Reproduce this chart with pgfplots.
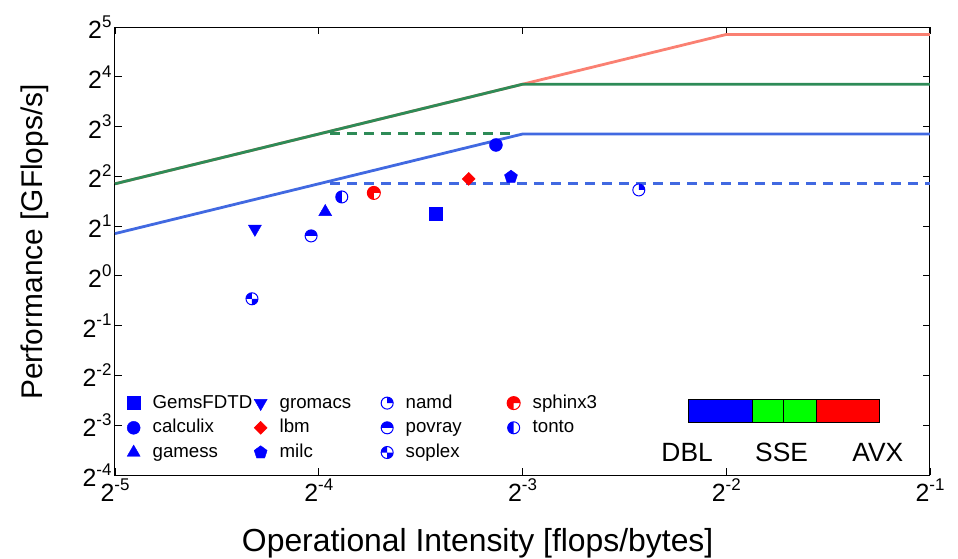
\documentclass[border=0pt]{standalone}
\usepackage{fontspec}
\setmainfont{Liberation Sans}
\usepackage{pgfplots}
\pgfplotsset{compat=1.18}
\usetikzlibrary{plotmarks}
\definecolor{rblue}{RGB}{65,105,225}
\definecolor{sgreen}{RGB}{46,139,87}
\definecolor{salmon}{RGB}{250,128,114}
\definecolor{pblue}{RGB}{0,0,255}
\definecolor{pred}{RGB}{255,0,0}
\definecolor{pgreen}{RGB}{0,255,0}

\newcommand\pw[1]{2\raisebox{0.45em}{\fontsize{17}{17}\selectfont#1}}
\newcommand\lgd[1]{\makebox[114bp][l]{\hspace{12.5bp}#1}}
\tikzset{roofdash/.style={line width=3.2bp, dash pattern=on 10bp off 7bp}}

% quadrant-filled circle marks
\newcommand\defquad[4]{%
\pgfdeclareplotmark{#1}{%
  \pgfpathcircle{\pgfpointorigin}{\pgfplotmarksize}%
  \pgfsetfillcolor{white}\pgfusepathqfill
  \pgfsetfillcolor{#2}%
  \pgfpathmoveto{\pgfpointorigin}%
  \pgfpathlineto{\pgfpointpolar{#3}{\pgfplotmarksize}}%
  \pgfpatharc{#3}{#4}{\pgfplotmarksize}%
  \pgfpathclose\pgfusepathqfill
  \pgfpathcircle{\pgfpointorigin}{\pgfplotmarksize}%
  \pgfusepathqstroke}}
\defquad{qnamd}{pblue}{0}{90}
\defquad{qpovray}{pblue}{0}{180}
\defquad{qsphinx}{pred}{0}{270}
\defquad{qtonto}{pblue}{90}{270}
\pgfdeclareplotmark{qsoplex}{%
  \pgfpathcircle{\pgfpointorigin}{\pgfplotmarksize}%
  \pgfsetfillcolor{white}\pgfusepathqfill
  \pgfsetfillcolor{pblue}%
  \pgfpathmoveto{\pgfpointorigin}%
  \pgfpathlineto{\pgfpointpolar{90}{\pgfplotmarksize}}%
  \pgfpatharc{90}{180}{\pgfplotmarksize}%
  \pgfpathclose
  \pgfpathmoveto{\pgfpointorigin}%
  \pgfpathlineto{\pgfpointpolar{270}{\pgfplotmarksize}}%
  \pgfpatharc{270}{360}{\pgfplotmarksize}%
  \pgfpathclose\pgfusepathqfill
  \pgfpathcircle{\pgfpointorigin}{\pgfplotmarksize}%
  \pgfusepathqstroke}

\begin{document}
\begin{tikzpicture}
\begin{axis}[
  scale only axis, width=815bp, height=448bp,
  xmode=log, ymode=log, log basis x=2, log basis y=2,
  xmin=0.03125, xmax=0.5, ymin=0.0625, ymax=32,
  xtick={0.03125,0.0625,0.125,0.25,0.5},
  xticklabels={\pw{-5},\pw{-4},\pw{-3},\pw{-2},\pw{-1}},
  ytick={0.0625,0.125,0.25,0.5,1,2,4,8,16,32},
  yticklabels={\pw{-4},\pw{-3},\pw{-2},\pw{-1},\pw{0},\pw{1},\pw{2},\pw{3},\pw{4},\pw{5}},
  minor tick num=0, log ticks with fixed point=false,
  tick align=inside, major tick length=7bp,
  tick style={black, line width=0.8bp},
  axis line style={line width=1bp},
  tick label style={font=\fontsize{25}{28}\selectfont},
  xlabel={Operational Intensity [flops/bytes]},
  ylabel={Performance [GFlops/s]},
  xlabel style={font=\fontsize{32}{36}\selectfont, at={(axis description cs:0.445,-0.152)}, anchor=center},
  ylabel style={font=\fontsize{30}{34}\selectfont, at={(axis description cs:-0.098,0.52)}, anchor=center},
  legend columns=3, transpose legend,
  legend cell align=left,
  legend style={draw=none, fill=none, inner sep=0bp, at={(rel axis cs:0.0147,0.181)}, anchor=north west,
    font=\fontsize{18.75}{22}\selectfont, row sep=6.7bp, column sep=0bp,
    nodes={inner sep=0bp, text height=14bp, text depth=4bp}},
  clip=false,
]
% rooflines (AVX under SSE)
\addplot[salmon, line width=2.8bp, forget plot] coordinates {(0.03125,3.605) (0.125,14.42) (0.25,28.84) (0.5,28.84)};
\addplot[sgreen, line width=2.8bp, forget plot] coordinates {(0.03125,3.605) (0.125,14.42) (0.5,14.42)};
\addplot[sgreen, roofdash, forget plot] coordinates {(0.065,7.25) (0.12,7.25)};
\addplot[rblue, line width=2.8bp, forget plot] coordinates {(0.03125,1.802) (0.125,7.21) (0.5,7.21)};
\addplot[rblue, roofdash, forget plot] coordinates {(0.065,3.605) (0.5,3.605)};
% benchmarks
\addplot[only marks, mark=square*, pblue, mark size=6.5bp] coordinates {(0.0931,2.370)};
\addlegendentry{\lgd{GemsFDTD}}
\addplot[only marks, mark=*, pblue, mark size=6.5bp] coordinates {(0.1142,6.19)};
\addlegendentry{\lgd{calculix}}
\addplot[only marks, mark=triangle*, pblue, mark size=7.5bp] coordinates {(0.0639,2.437)};
\addlegendentry{\lgd{gamess}}
\addplot[only marks, mark=triangle*, mark options={rotate=180}, pblue, mark size=7.5bp] coordinates {(0.0503,1.924)};
\addlegendentry{\lgd{gromacs}}
\addplot[only marks, mark=square*, mark options={rotate=45}, pred, mark size=4.6bp] coordinates {(0.1041,3.858)};
\addlegendentry{\lgd{lbm}}
\addplot[only marks, mark=pentagon*, pblue, mark size=6.8bp] coordinates {(0.1202,3.967)};
\addlegendentry{\lgd{milc}}
\addplot[only marks, mark=qnamd, mark options={draw=pblue, line width=1bp}, mark size=6bp] coordinates {(0.1857,3.31)};
\addlegendentry{\lgd{namd}}
\addplot[only marks, mark=qpovray, mark options={draw=pblue, line width=1bp}, mark size=6bp] coordinates {(0.0609,1.745)};
\addlegendentry{\lgd{povray}}
\addplot[only marks, mark=qsoplex, mark options={draw=pblue, line width=1bp}, mark size=6bp] coordinates {(0.0498,0.727)};
\addlegendentry{\lgd{soplex}}
\addplot[only marks, mark=qsphinx, mark options={draw=pred, line width=1bp}, mark size=6.5bp] coordinates {(0.0754,3.175)};
\addlegendentry{\lgd{sphinx3}}
\addplot[only marks, mark=qtonto, mark options={draw=pblue, line width=1bp}, mark size=6bp] coordinates {(0.0676,3.002)};
\addlegendentry{\lgd{tonto}}
% DBL / SSE / AVX bar
\fill[pblue] (rel axis cs:0.703,0.1183) rectangle (rel axis cs:0.7816,0.1696);
\fill[pgreen] (rel axis cs:0.7816,0.1183) rectangle (rel axis cs:0.860,0.1696);
\fill[pred] (rel axis cs:0.860,0.1183) rectangle (rel axis cs:0.9374,0.1696);
\draw[black, line width=0.8bp] (rel axis cs:0.703,0.1183) rectangle (rel axis cs:0.9374,0.1696);
\draw[black, line width=0.6bp] (rel axis cs:0.7816,0.1183) -- (rel axis cs:0.7816,0.1696);
\draw[black, line width=0.6bp] (rel axis cs:0.8196,0.1183) -- (rel axis cs:0.8196,0.1696);
\draw[black, line width=0.6bp] (rel axis cs:0.860,0.1183) -- (rel axis cs:0.860,0.1696);
\node[font=\fontsize{26.5}{30}\selectfont] at (rel axis cs:0.702,0.0513) {DBL};
\node[font=\fontsize{26.5}{30}\selectfont] at (rel axis cs:0.818,0.0513) {SSE};
\node[font=\fontsize{26.5}{30}\selectfont] at (rel axis cs:0.936,0.0513) {AVX};
\end{axis}
\pgfresetboundingbox
\path[use as bounding box] (-115bp,-84bp) rectangle (843bp,475bp);
\end{tikzpicture}
\end{document}
